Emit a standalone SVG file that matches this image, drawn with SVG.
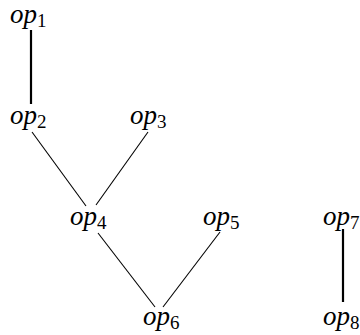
<svg xmlns="http://www.w3.org/2000/svg" width="360" height="335" viewBox="0 0 360 335">
<style>
.lbl{font-family:"Liberation Serif","DejaVu Serif",serif;font-size:27px;font-style:italic;fill:#000}
.sub{font-style:normal;font-size:19px}
.thin{stroke:#000;stroke-width:1.1;fill:none}
.thick{stroke:#000;stroke-width:2.2;fill:none}
</style>
<rect width="360" height="335" fill="#fff"/>
<g id="connectors">
<line class="thick" x1="31" y1="30" x2="31" y2="104"/>
<line class="thin" x1="32" y1="132" x2="86" y2="206"/>
<line class="thin" x1="148" y1="132" x2="96" y2="205"/>
<line class="thin" x1="98" y1="233" x2="155" y2="307"/>
<line class="thin" x1="220" y1="232" x2="163" y2="307"/>
<line class="thick" x1="343" y1="229" x2="343" y2="302"/>
</g>
<g id="op1"><text class="lbl" x="10" y="23">op<tspan class="sub" dy="4">1</tspan></text></g>
<g id="op2"><text class="lbl" x="10" y="124">op<tspan class="sub" dy="4">2</tspan></text></g>
<g id="op3"><text class="lbl" x="130" y="124">op<tspan class="sub" dy="4">3</tspan></text></g>
<g id="op4"><text class="lbl" x="70" y="225">op<tspan class="sub" dy="4">4</tspan></text></g>
<g id="op5"><text class="lbl" x="203" y="225">op<tspan class="sub" dy="4">5</tspan></text></g>
<g id="op6"><text class="lbl" x="143" y="325">op<tspan class="sub" dy="4">6</tspan></text></g>
<g id="op7"><text class="lbl" x="323" y="225">op<tspan class="sub" dy="4">7</tspan></text></g>
<g id="op8"><text class="lbl" x="323" y="325">op<tspan class="sub" dy="4">8</tspan></text></g>
</svg>
